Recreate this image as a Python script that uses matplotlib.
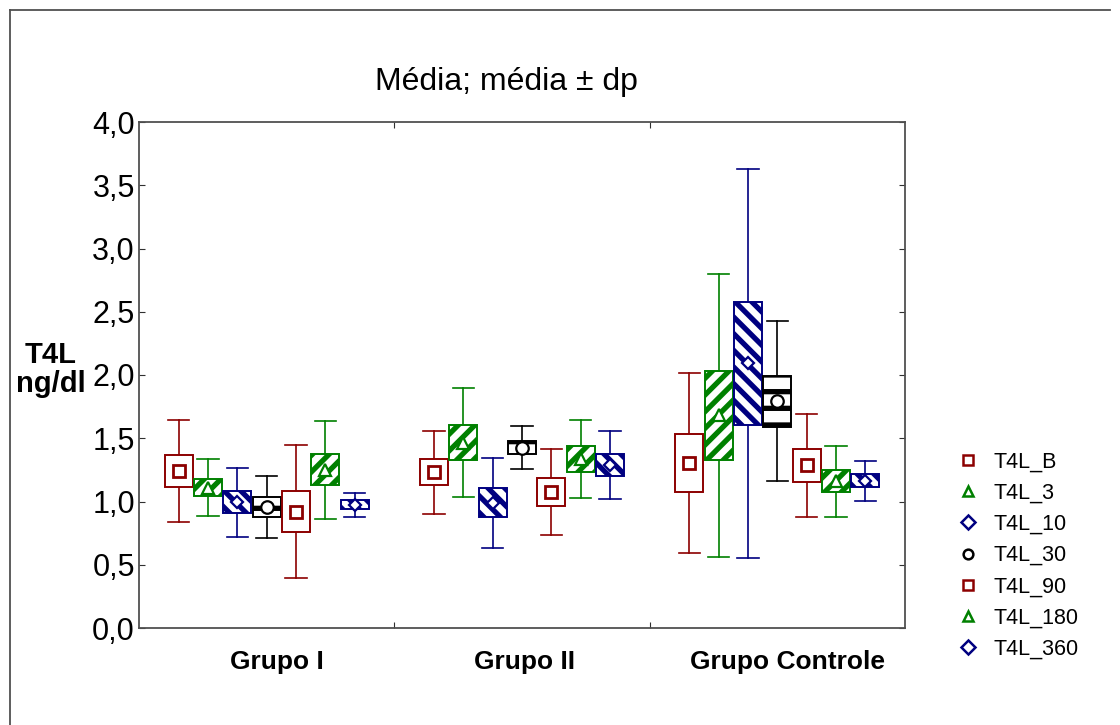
import matplotlib
matplotlib.use("Agg")
import matplotlib.pyplot as plt
from matplotlib.patches import Rectangle
from matplotlib.lines import Line2D
from matplotlib.ticker import FuncFormatter
import numpy as np

plt.rcParams['font.family'] = ['Liberation Sans', 'DejaVu Sans']
plt.rcParams['hatch.linewidth'] = 3.8

# data: mean, box half-height (se) and whisker half-height (sd)
groups = ['Grupo I', 'Grupo II', 'Grupo Controle']
series = ['T4L_B', 'T4L_3', 'T4L_10', 'T4L_30', 'T4L_90', 'T4L_180', 'T4L_360']

means = [
    [1.243, 1.110, 0.995, 0.959, 0.920, 1.251, 0.976],
    [1.231, 1.466, 0.991, 1.425, 1.075, 1.336, 1.288],
    [1.304, 1.680, 2.093, 1.793, 1.285, 1.159, 1.163],
]
box_half = [
    [0.128, 0.070, 0.088, 0.078, 0.165, 0.122, 0.032],
    [0.104, 0.138, 0.112, 0.053, 0.108, 0.099, 0.086],
    [0.227, 0.353, 0.487, 0.202, 0.129, 0.087, 0.052],
]
sd = [
    [0.402, 0.226, 0.272, 0.244, 0.528, 0.388, 0.095],
    [0.330, 0.434, 0.356, 0.168, 0.340, 0.312, 0.270],
    [0.714, 1.122, 1.538, 0.634, 0.408, 0.278, 0.156],
]

red = '#8c0000'
green = '#008000'
navy = '#000080'
colors = [red, green, navy, 'black', red, green, navy]
hatches = [None, '//', '\\\\', '-', None, '//', '\\\\']
markers = ['s', '^', 'D', 'o', 's', '^', 'D']
msizes = [8, 8, 6, 9, 8, 8, 6]

fig = plt.figure(figsize=(11.2, 7.25), dpi=100)
ax = fig.add_axes([139/1120, 1 - 628/725, 766/1120, 506/725])

step = 0.1148
bw = 0.1097
cap = 0.083

for g in range(len(groups)):
    for i in range(len(series)):
        x = g + (i - 3) * step
        m = means[g][i]
        b = box_half[g][i]
        s = sd[g][i]
        c = colors[i]
        ax.plot([x, x], [m - s, m + s], color=c, lw=1.2, zorder=2)
        ax.plot([x - cap/2, x + cap/2], [m + s, m + s], color=c, lw=1.2, zorder=2)
        ax.plot([x - cap/2, x + cap/2], [m - s, m - s], color=c, lw=1.2, zorder=2)
        rect = Rectangle((x - bw/2, m - b), bw, 2*b, facecolor='white',
                         edgecolor=c, lw=1.4, hatch=hatches[i], zorder=3)
        ax.add_patch(rect)
        ax.plot(x, m, marker=markers[i], ms=msizes[i], mfc='white', mec=c,
                mew=2 if i in (0, 4) else 1.6, zorder=4)

ax.set_xlim(-0.5, 2.5)
ax.set_ylim(0, 4)
ax.set_yticks(np.arange(0, 4.01, 0.5))
ax.yaxis.set_major_formatter(FuncFormatter(lambda v, p: f'{v:.1f}'.replace('.', ',')))
ax.tick_params(axis='y', direction='in', length=4, labelsize=22, pad=3,
               right=True, color='#303030')
ax.set_xticks([0.5, 1.5])
ax.set_xticklabels([])
ax.set_xticks([0.04, 1.01, 2.04], minor=True)
ax.set_xticklabels(groups, minor=True, fontsize=19, fontweight='bold')
ax.tick_params(axis='x', which='major', direction='in', length=4, top=True, color='#303030')
ax.tick_params(axis='x', which='minor', length=0, pad=16)
for sp in ax.spines.values():
    sp.set_color('#505050')
    sp.set_linewidth(1.3)

ax.set_ylabel('T4L\nng/dl', rotation=0, fontsize=21, fontweight='bold',
              ha='center', va='center', linespacing=1.05)
ax.yaxis.set_label_coords(-0.115, 0.51)

fig.text(506/1120, 1 - 82/725, 'Média; média ± dp', fontsize=23, ha='center', va='center')

handles = [Line2D([], [], ls='none', marker=markers[i], ms=7, mfc='white', mec=colors[i],
                  mew=1.8) for i in range(len(series))]
fig.legend(handles, series, loc='upper left', bbox_to_anchor=(946/1120, 1 - 441/725),
           frameon=False, fontsize=15.5, handlelength=1.0, handletextpad=0.7,
           labelspacing=0.47, borderpad=0)

# outer frame (left and top edges only)
fig.add_artist(Line2D([10/1120, 10/1120], [0, 1 - 10/725], color='#505050', lw=1.3,
                      transform=fig.transFigure))
fig.add_artist(Line2D([10/1120, 1110/1120], [1 - 10/725, 1 - 10/725], color='#505050',
                      lw=1.3, transform=fig.transFigure))

fig.savefig('out.png', dpi=100)
